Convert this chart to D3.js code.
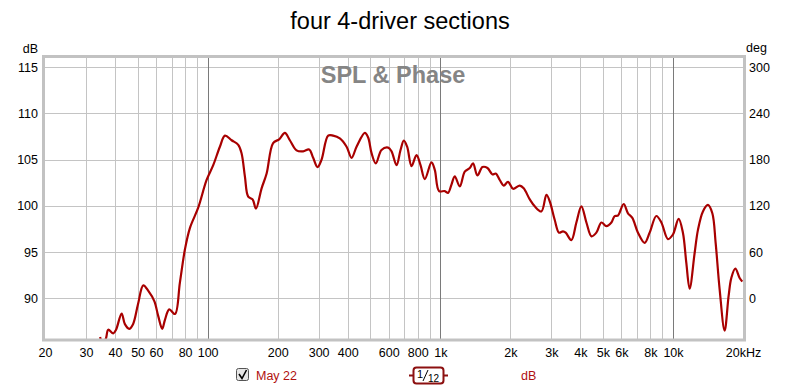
<!DOCTYPE html>
<html>
<head>
<meta charset="utf-8">
<script src="https://cdn.jsdelivr.net/npm/d3@7"></script>
<style>
    body { margin: 0; background: #fff; }
    text { font-family: "Liberation Sans", Arial, sans-serif; }
</style>
</head>
<body>
<svg id="chart"></svg>
<script>
// measured response, frequency (Hz) and SPL (dB)
const freqs = [34.5, 35.5, 36.6, 37.4, 39.3, 40.4, 42.7, 44.1, 46.0, 47.8, 50.2, 52.9, 55.6, 59.0, 61.3, 63.8, 65.6, 68.4, 72.4, 76.0,
    79.9, 83.9, 91.1, 99.0, 105.7, 112.9, 118.7, 126.8, 135.4, 139.9, 144.6, 149.4, 156.1, 161.3, 170.6, 179.3, 191.2, 203.0, 214.8, 225.6,
    241.1, 257.4, 273.1, 284.2, 296.8, 308.8, 329.7, 346.4, 370.0, 395.6, 415.6, 436.6, 473.9, 489.7, 506.5, 528.4, 558.9, 596.9, 617.3, 648.5,
    674.7, 697.1, 720.3, 752.3, 790.5, 822.3, 857.9, 916.5, 946.9, 988, 1045, 1080, 1117, 1154, 1213, 1274, 1339, 1383, 1444, 1518,
    1595, 1676, 1731, 1801, 1874, 1955, 2055, 2195, 2283, 2424, 2546, 2721, 2859, 2953, 3102, 3238, 3368, 3459, 3659, 3845,
    4040, 4246, 4466, 4686, 4925, 5174, 5437, 5618, 5803, 6139, 6406, 6690, 7072, 7553, 7939, 8484, 8915, 9518, 9997, 10577,
    11035, 11411, 11793, 12393, 12806, 13454, 14138, 14765, 15256, 15868, 16673, 17346, 17816, 18535, 19345, 19865];
const spl = [85.8, 85.0, 85.7, 86.6, 86.2, 86.6, 88.35, 87.2, 86.7, 87.2, 89.35, 91.4, 90.8, 89.7, 88.1, 86.7, 87.7, 88.8, 88.3, 91.7,
    95.3, 97.6, 99.8, 102.8, 104.4, 106.4, 107.6, 107.1, 106.6, 105.7, 103.2, 101.0, 100.7, 99.7, 101.9, 103.5, 106.8, 107.2, 107.9, 107.1,
    106.0, 105.9, 106.1, 105.2, 104.2, 105.0, 107.6, 107.6, 107.3, 106.4, 105.2, 106.4, 107.9, 107.4, 105.7, 104.6, 106.05, 106.3, 105.9, 104.4,
    106.05, 107.05, 106.4, 104.3, 105.5, 104.4, 102.9, 104.7, 103.9, 101.6, 101.6, 101.4, 102.3, 103.2, 102.1, 103.7, 104.1, 104.6, 103.3, 104.2,
    104.1, 103.4, 103.5, 102.8, 102.2, 102.6, 101.85, 102.2, 101.9, 100.7, 99.95, 99.4, 101.2, 100.5, 98.5, 97.1, 97.25, 97.1, 96.3, 98.2,
    99.95, 98.2, 96.7, 97.1, 98.2, 97.8, 98.2, 98.9, 98.95, 100.2, 99.2, 98.7, 97.1, 96.0, 97.1, 98.9, 98.2, 96.4, 96.9, 98.6,
    97.1, 93.85, 91.05, 94.9, 97.4, 99.4, 100.1, 99.2, 96.0, 91.0, 86.5, 90.25, 92.2, 93.2, 92.2, 91.8];

const xTicks = [20, 30, 40, 50, 60, 80, 100, 200, 300, 400, 600, 800, 1000, 2000, 3000, 4000, 5000, 6000, 8000, 10000, 20000];
const xTickLabels = ['20', '30', '40', '50', '60', '80', '100', '200', '300', '400', '600', '800', '1k', '2k', '3k', '4k', '5k', '6k', '8k', '10k', '20kHz'];
const xMinor = [30, 40, 50, 60, 70, 80, 90, 200, 300, 400, 500, 600, 700, 800, 900, 2000, 3000, 4000, 5000, 6000, 7000, 8000, 9000];
const xDecades = [100, 1000, 10000];
const dbTicks = [90, 95, 100, 105, 110, 115];
const degTicks = [0, 60, 120, 180, 240, 300];

const title = 'four 4-driver sections';
const watermark = 'SPL & Phase';
const seriesName = 'May 22';

let width = 800;
let height = 390;
let config = {
    left: 45,
    right: 743,
    top: 58,
    bottom: 339.5,
    color: '#a80000'
};

let svg = d3.select('#chart')
    .attr('width', width)
    .attr('height', height);

let xScale = d3.scaleLog()
    .domain([20, 20000])
    .range([config.left, config.right]);
let yScale = d3.scaleLinear()
    .domain([85.54, 116.0])
    .range([config.bottom, config.top]);
// phase axis shares the grid: 0 deg at 90 dB, 60 deg per 5 dB
let degScale = d3.scaleLinear()
    .domain([(85.54 - 90) * 12, (116.0 - 90) * 12])
    .range([config.bottom, config.top]);

svg.append('text')
    .attr('x', 400)
    .attr('y', 29)
    .attr('text-anchor', 'middle')
    .style('font-size', '23.5px')
    .text(title);

let grid = svg.append('g');
grid.selectAll('.hgrid')
    .data(dbTicks)
    .enter().append('line')
    .attr('x1', config.left).attr('x2', config.right)
    .attr('y1', d => Math.round(yScale(d)) + 0.5)
    .attr('y2', d => Math.round(yScale(d)) + 0.5)
    .attr('stroke', '#c4c4c4');
grid.selectAll('.vgrid')
    .data(xMinor)
    .enter().append('line')
    .attr('x1', d => Math.round(xScale(d)) + 0.5)
    .attr('x2', d => Math.round(xScale(d)) + 0.5)
    .attr('y1', config.top).attr('y2', config.bottom)
    .attr('stroke', '#c4c4c4');
grid.selectAll('.dgrid')
    .data(xDecades)
    .enter().append('line')
    .attr('x1', d => Math.round(xScale(d)) + 0.5)
    .attr('x2', d => Math.round(xScale(d)) + 0.5)
    .attr('y1', config.top).attr('y2', config.bottom)
    .attr('stroke', '#7a7a7a');

svg.append('text')
    .attr('x', 393)
    .attr('y', 83)
    .attr('text-anchor', 'middle')
    .attr('fill', '#858585')
    .style('font-size', '23.5px')
    .style('font-weight', 'bold')
    .text(watermark);

svg.append('defs').append('clipPath')
    .attr('id', 'clip')
    .append('rect')
    .attr('x', config.left)
    .attr('y', config.top)
    .attr('width', config.right - config.left)
    .attr('height', config.bottom - config.top);

let points = freqs.map((f, i) => ({f: f, db: spl[i]}));
let line = d3.line()
    .x(d => xScale(d.f))
    .y(d => yScale(d.db))
    .curve(d3.curveCatmullRom.alpha(0.5));
svg.append('path')
    .datum(points)
    .attr('clip-path', 'url(#clip)')
    .attr('d', line)
    .attr('fill', 'none')
    .attr('stroke', config.color)
    .attr('stroke-width', 2.2)
    .attr('stroke-linejoin', 'round');

// frame
svg.append('rect')
    .attr('x', config.left - 1.5)
    .attr('y', config.top - 1.5)
    .attr('width', config.right - config.left + 3)
    .attr('height', config.bottom - config.top + 2)
    .attr('fill', 'none')
    .attr('stroke', '#c2c2c2')
    .attr('stroke-width', 3);

let xAx = d3.axisBottom(xScale)
    .tickValues(xTicks)
    .tickFormat((d, i) => xTickLabels[i])
    .tickSize(0)
    .tickPadding(0);
let xAxGroup = svg.append('g')
    .attr('transform', `translate(0,${config.bottom})`)
    .call(xAx);
xAxGroup.select('.domain').remove();
xAxGroup.selectAll('text')
    .attr('y', 17)
    .attr('dy', 0)
    .attr('fill', '#000')
    .style('font-size', '12.5px');

let yAx = d3.axisLeft(yScale)
    .tickValues(dbTicks)
    .tickSize(0)
    .tickPadding(0);
let yAxGroup = svg.append('g')
    .attr('transform', `translate(38,0)`)
    .call(yAx);
yAxGroup.select('.domain').remove();
yAxGroup.selectAll('text')
    .attr('fill', '#000')
    .style('font-size', '12.5px');

let degAx = d3.axisRight(degScale)
    .tickValues(degTicks)
    .tickSize(0)
    .tickPadding(0);
let degAxGroup = svg.append('g')
    .attr('transform', `translate(749,0)`)
    .call(degAx);
degAxGroup.select('.domain').remove();
degAxGroup.selectAll('text')
    .attr('fill', '#000')
    .style('font-size', '12.5px');

svg.append('text')
    .attr('x', 38).attr('y', 53)
    .attr('text-anchor', 'end')
    .style('font-size', '12.5px')
    .text('dB');
svg.append('text')
    .attr('x', 746).attr('y', 52)
    .style('font-size', '12.5px')
    .text('deg');

// legend
let legend = svg.append('g');
legend.append('rect')
    .attr('x', 236.5).attr('y', 368.5)
    .attr('width', 12).attr('height', 12)
    .attr('rx', 2)
    .attr('fill', '#e6e6e6')
    .attr('stroke', '#555');
legend.append('path')
    .attr('d', 'M239,374 L242,378.5 L246.5,370')
    .attr('fill', 'none')
    .attr('stroke', '#000')
    .attr('stroke-width', 1.6);
legend.append('text')
    .attr('x', 256).attr('y', 380)
    .attr('fill', '#b01010')
    .style('font-size', '12.5px')
    .text(seriesName);

legend.append('line')
    .attr('x1', 409).attr('x2', 448)
    .attr('y1', 375.5).attr('y2', 375.5)
    .attr('stroke', '#8c1010')
    .attr('stroke-width', 2);
legend.append('rect')
    .attr('x', 413.5).attr('y', 367.5)
    .attr('width', 30).attr('height', 16)
    .attr('rx', 3)
    .attr('fill', '#fff')
    .attr('stroke', '#8c1010')
    .attr('stroke-width', 2);
legend.append('text')
    .attr('x', 417).attr('y', 378)
    .style('font-size', '11px')
    .text('1');
legend.append('line')
    .attr('x1', 423).attr('x2', 428)
    .attr('y1', 381).attr('y2', 370)
    .attr('stroke', '#000');
legend.append('text')
    .attr('x', 428).attr('y', 382)
    .style('font-size', '10px')
    .text('12');
legend.append('text')
    .attr('x', 521).attr('y', 380)
    .attr('fill', '#b01010')
    .style('font-size', '12.5px')
    .text('dB');
</script>
</body>
</html>
